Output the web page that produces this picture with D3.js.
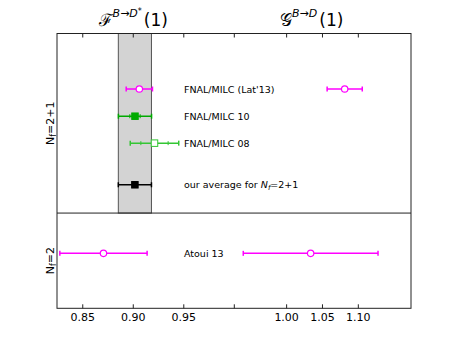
<!DOCTYPE html>
<html>
<head>
<meta charset="utf-8">
<script src="https://cdn.jsdelivr.net/npm/d3@7"></script>
<style>
  body { margin: 0; background: #fff; }
  svg text { font-family: "DejaVu Sans", sans-serif; }
</style>
</head>
<body>
<div id="chart"></div>
<script>
// rows: label, vertical slot, F value + errors, G value + errors
const labels = ["FNAL/MILC (Lat'13)", "FNAL/MILC 10", "FNAL/MILC 08", "our average", "Atoui 13"];
const rowPos = [2.04, 3.04, 4.03, 5.56, 8.08];
const fValues = [0.906, 0.9017, 0.921, 0.9016, 0.8705];
const fErrors = [0.013, 0.0164, 0.024, 0.0164, 0.0432];
const fStatErrors = [null, 0.0051, 0.0135, null, null];
const gValues = [1.081, null, null, null, 1.0335];
const gErrors = [0.0245, null, null, null, 0.094];
const colors = ["#ff00ff", "#00aa00", "#33c633", "#000000", "#ff00ff"];
const markers = ["circleOpen", "square", "squareOpen", "square", "circleOpen"];

const fTicks = [0.85, 0.90, 0.95];
const gTicks = [1.00, 1.05, 1.10];
const splitPos = 6.6;   // boundary between N_f=2+1 and N_f=2 panels
const yMax = 10.1;

const W = 457, H = 343;
const plotLeft = 57, plotRight = 411, plotTop = 33.5, plotBottom = 308.3, splitX = 234.3;

const svg = d3.select("#chart").append("svg")
    .attr("width", W).attr("height", H);

// two x scales sharing the axis: F on the left, G on the right
const xF = d3.scaleLinear().domain([0.8245, 1.0]).range([plotLeft, splitX]);
const xG = d3.scaleLinear().domain([0.927, 1.1735]).range([splitX, plotRight]);
const y = d3.scaleLinear().domain([0, yMax]).range([plotTop, plotBottom]);

// average band
const avg = 3;
svg.append("rect")
    .attr("x", xF(fValues[avg] - fErrors[avg]))
    .attr("y", y(0))
    .attr("width", xF(fValues[avg] + fErrors[avg]) - xF(fValues[avg] - fErrors[avg]))
    .attr("height", y(splitPos) - y(0))
    .attr("fill", "#d3d3d3")
    .attr("stroke", "#555")
    .attr("stroke-width", 1);

// frame + divider
svg.append("rect")
    .attr("x", plotLeft).attr("y", plotTop)
    .attr("width", plotRight - plotLeft).attr("height", plotBottom - plotTop)
    .attr("fill", "none").attr("stroke", "#222").attr("stroke-width", 1);
svg.append("line")
    .attr("x1", plotLeft).attr("x2", plotRight)
    .attr("y1", y(splitPos)).attr("y2", y(splitPos))
    .attr("stroke", "#222");

// ticks (inward) on top and bottom
const tickXs = fTicks.map(xF).concat([splitX], gTicks.map(xG));
tickXs.forEach(tx => {
    svg.append("line").attr("x1", tx).attr("x2", tx)
        .attr("y1", plotTop).attr("y2", plotTop + 4).attr("stroke", "#222");
    svg.append("line").attr("x1", tx).attr("x2", tx)
        .attr("y1", plotBottom).attr("y2", plotBottom - 4).attr("stroke", "#222");
});
const tickLabels = fTicks.map(t => ({ x: xF(t), t })).concat(gTicks.map(t => ({ x: xG(t), t })));
svg.selectAll("text.tick").data(tickLabels).join("text")
    .attr("class", "tick")
    .attr("x", d => d.x).attr("y", plotBottom + 13)
    .attr("text-anchor", "middle")
    .attr("font-size", 11)
    .text(d => d.t.toFixed(2));

// error bars
function errBar(scale, v, e, yy, color, stat) {
    const g = svg.append("g").attr("stroke", color).attr("stroke-width", 1.5);
    g.append("line").attr("x1", scale(v - e)).attr("x2", scale(v + e))
        .attr("y1", yy).attr("y2", yy);
    [v - e, v + e].forEach(c => g.append("line")
        .attr("x1", scale(c)).attr("x2", scale(c))
        .attr("y1", yy - 2.5).attr("y2", yy + 2.5));
    if (stat != null) {
        [v - stat, v + stat].forEach(c => g.append("line")
            .attr("x1", scale(c)).attr("x2", scale(c))
            .attr("y1", yy - 2).attr("y2", yy + 2).attr("stroke-width", 1));
    }
}
function marker(cx, cy, type, color) {
    if (type.startsWith("circle")) {
        svg.append("circle").attr("cx", cx).attr("cy", cy).attr("r", 3.2)
            .attr("fill", "#fff").attr("stroke", color).attr("stroke-width", 1.2);
    } else {
        const s = 6.5;
        svg.append("rect").attr("x", cx - s / 2).attr("y", cy - s / 2)
            .attr("width", s).attr("height", s)
            .attr("fill", type === "squareOpen" ? "#fff" : color)
            .attr("stroke", color).attr("stroke-width", 1);
    }
}

labels.forEach((lab, i) => {
    const yy = y(rowPos[i]);
    errBar(xF, fValues[i], fErrors[i], yy, colors[i], fStatErrors[i]);
    marker(xF(fValues[i]), yy, markers[i], colors[i]);
    if (gValues[i] != null) {
        errBar(xG, gValues[i], gErrors[i], yy, colors[i], null);
        marker(xG(gValues[i]), yy, markers[i], colors[i]);
    }
    const t = svg.append("text").attr("x", 184).attr("y", yy + 3.5).attr("font-size", 9.5);
    if (i === avg) {
        t.append("tspan").text("our average for ");
        t.append("tspan").attr("font-style", "italic").text("N");
        t.append("tspan").attr("font-style", "italic").attr("font-size", 7).attr("dy", 2).text("f");
        t.append("tspan").attr("dy", -2).text("=2+1");
    } else {
        t.text(lab);
    }
});

// panel labels
function nfLabel(text, yc) {
    const t = svg.append("text")
        .attr("transform", `translate(54,${yc}) rotate(-90)`)
        .attr("text-anchor", "middle").attr("font-size", 11);
    t.append("tspan").text("N");
    t.append("tspan").attr("font-size", 8).attr("dy", 2).text("f");
    t.append("tspan").attr("dy", -2).text(text);
}
nfLabel("=2+1", y(splitPos / 2));
nfLabel("=2", y((splitPos + yMax) / 2));

// titles
function title(letter, sup, star, cx) {
    const t = svg.append("text").attr("x", cx).attr("y", 26)
        .attr("text-anchor", "middle").attr("font-size", 17);
    t.append("tspan").attr("font-family", "DejaVu Serif").attr("font-weight", 300).text(letter);
    t.append("tspan").attr("font-size", 11).attr("font-style", "italic").attr("dy", -9).text(sup);
    if (star) t.append("tspan").attr("font-size", 8).attr("dy", -3).text("*");
    t.append("tspan").attr("dy", star ? 12 : 9).attr("dx", 2).text("(1)");
}
title("\u2131", "B\u2192D", true, xF(0.9));
title("\uD835\uDCA2", "B\u2192D", false, xG(1.035));
</script>
</body>
</html>
